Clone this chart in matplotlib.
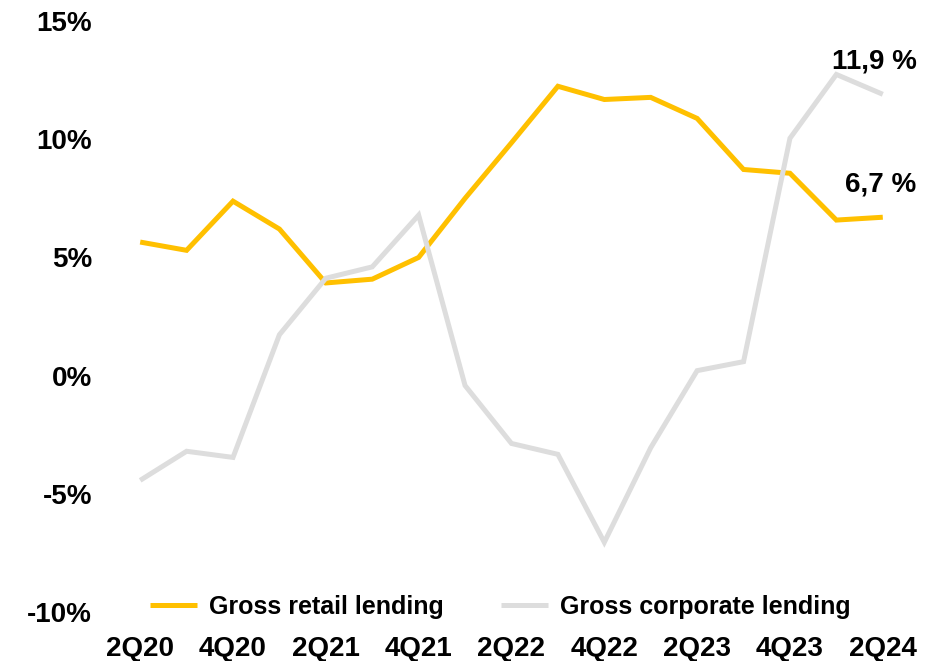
import matplotlib
matplotlib.use("Agg")
import matplotlib.pyplot as plt
from matplotlib.ticker import FixedLocator, FuncFormatter

plt.rcParams['font.family'] = ['Liberation Sans', 'DejaVu Sans']
plt.rcParams['font.weight'] = 'bold'

quarters = ["2Q20", "3Q20", "4Q20", "1Q21", "2Q21", "3Q21", "4Q21", "1Q22", "2Q22",
            "3Q22", "4Q22", "1Q23", "2Q23", "3Q23", "4Q23", "1Q24", "2Q24"]
retail = [5.65, 5.3, 7.38, 6.2, 3.92, 4.08, 5.0, 7.5, 9.85,
          12.24, 11.68, 11.77, 10.88, 8.72, 8.56, 6.58, 6.7]
corporate = [-4.43, -3.2, -3.46, 1.73, 4.12, 4.6, 6.79, -0.42, -2.87,
             -3.33, -7.05, -3.05, 0.21, 0.59, 10.04, 12.74, 11.9]
yticks = [-10, -5, 0, 5, 10, 15]

retail_color = "#FFC000"
corporate_color = "#DDDDDD"

fig = plt.figure(figsize=(9.41, 6.61), dpi=100)
ax = fig.add_axes([0.1243, 0.0741, 0.8385, 0.8941])

x = list(range(len(quarters)))
ax.plot(x, retail, color=retail_color, lw=3.6, label="Gross retail lending",
        solid_joinstyle="miter", solid_capstyle="butt")
ax.plot(x, corporate, color=corporate_color, lw=3.6, label="Gross corporate lending",
        solid_joinstyle="miter", solid_capstyle="butt")

ax.set_xlim(-0.5, len(quarters) - 0.5)
ax.set_ylim(-10, 15)

ax.xaxis.set_major_locator(FixedLocator(x[::2]))
ax.set_xticklabels(quarters[::2])
ax.yaxis.set_major_locator(FixedLocator(yticks))
ax.yaxis.set_major_formatter(FuncFormatter(lambda v, p: f"{v:.0f}%"))

ax.tick_params(axis="both", length=0, labelsize=20)
ax.tick_params(axis="y", pad=18)
ax.tick_params(axis="x", pad=17)
for lbl in ax.get_xticklabels() + ax.get_yticklabels():
    lbl.set_fontweight("bold")

for s in ax.spines.values():
    s.set_visible(False)

ax.annotate(f"{corporate[-1]:.1f} %".replace(".", ","), xy=(x[-1], corporate[-1]),
            xytext=(-8, 33), textcoords="offset pixels", ha="center", va="center",
            fontsize=20, fontweight="bold", color="black")
ax.annotate(f"{retail[-1]:.1f} %".replace(".", ","), xy=(x[-1], retail[-1]),
            xytext=(-2, 33), textcoords="offset pixels", ha="center", va="center",
            fontsize=20, fontweight="bold", color="black")

leg = fig.legend(loc="center left", bbox_to_anchor=(0.1594, 0.0817), ncol=2,
                 frameon=False, fontsize=18, handlelength=1.9, handletextpad=0.45,
                 columnspacing=2.3, borderpad=0, borderaxespad=0)
for t in leg.get_texts():
    t.set_fontweight("bold")

fig.savefig("out.png", dpi=100)
